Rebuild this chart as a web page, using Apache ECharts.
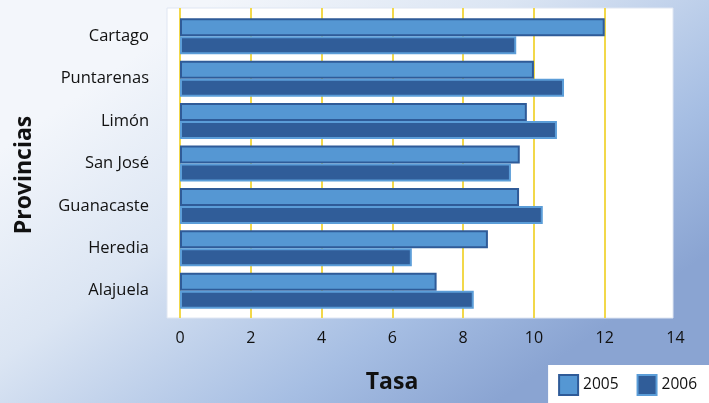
<!DOCTYPE html>
<html>
<head>
<meta charset="utf-8">
<script src="https://cdn.jsdelivr.net/npm/echarts@6/dist/echarts.min.js"></script>
<style>
  html, body { margin: 0; padding: 0; }
  #chart { width: 709px; height: 403px; }
</style>
</head>
<body>
<div id="chart"></div>
<script>
const provincias = ['Cartago', 'Puntarenas', 'Limón', 'San José', 'Guanacaste', 'Heredia', 'Alajuela'];
const tasa2005 = [12.0, 10.0, 9.8, 9.6, 9.58, 8.7, 7.25];
const tasa2006 = [9.5, 10.85, 10.65, 9.35, 10.25, 6.55, 8.3];
const xTicks = [0, 2, 4, 6, 8, 10, 12, 14];

const font = '"Open Sans", "Noto Sans", sans-serif';

const chart = echarts.init(document.getElementById('chart'));

const options = {
  backgroundColor: {
    type: 'linear', x: 0.3, y: 0, x2: 0.7, y2: 1,
    colorStops: [
      { offset: 0, color: '#f3f6fb' },
      { offset: 0.35, color: '#dbe5f3' },
      { offset: 0.75, color: '#a6bee3' },
      { offset: 1, color: '#8aa4d2' }
    ]
  },
  animation: false,
  textStyle: { fontFamily: font },
  graphic: [
    // white plot panel
    { type: 'rect', z: -1, shape: { x: 167, y: 8, width: 506, height: 310 },
      style: { fill: '#ffffff', stroke: '#dfe6f2', lineWidth: 1 } },
    { type: 'text', x: 24, y: 175, rotation: Math.PI / 2,
      style: { text: 'Provincias', fontSize: 23, fontWeight: 'bold', fontFamily: font,
        fill: '#111', align: 'center', verticalAlign: 'middle' } },
    { type: 'text', x: 392, y: 382,
      style: { text: 'Tasa', fontSize: 23, fontWeight: 'bold', fontFamily: font,
        fill: '#111', align: 'center', verticalAlign: 'middle' } }
  ],
  legend: {
    right: 0, bottom: 0,
    backgroundColor: '#ffffff',
    padding: [9, 12, 7, 10],
    itemWidth: 19, itemHeight: 20, itemGap: 18,
    icon: 'rect',
    textStyle: { fontSize: 15.5, color: '#111', fontFamily: font },
    data: ['2005', '2006']
  },
  grid: [
    { left: 180, right: 33.5, top: 8, bottom: 85 },
    { left: 180, right: 33.5, top: 15, height: 297 }
  ],
  xAxis: [
    {
      gridIndex: 0, type: 'value', min: 0, max: 14, interval: 2,
      axisLine: { show: false }, axisTick: { show: false },
      axisLabel: { fontSize: 16, color: '#111', margin: 12, fontFamily: font,
        formatter: v => xTicks.includes(v) ? String(v) : '' },
      splitLine: { show: true, showMaxLine: false, lineStyle: { color: '#f2d84a', width: 2 } }
    },
    {
      gridIndex: 1, type: 'value', min: 0, max: 14, interval: 2, show: false
    }
  ],
  yAxis: [
    { gridIndex: 0, type: 'value', show: false },
    {
      gridIndex: 1, type: 'category', data: provincias, inverse: true,
      axisLine: { show: false }, axisTick: { show: false },
      axisLabel: { fontSize: 16.5, color: '#111', margin: 31, fontFamily: font }
    }
  ],
  series: [
    {
      name: '2005', type: 'bar', xAxisIndex: 1, yAxisIndex: 1,
      data: tasa2005, barWidth: 18, barGap: '0%',
      itemStyle: { color: '#5597d3', borderColor: '#2f5b98', borderWidth: 2 }
    },
    {
      name: '2006', type: 'bar', xAxisIndex: 1, yAxisIndex: 1,
      data: tasa2006, barWidth: 18, barGap: '0%',
      itemStyle: { color: '#305d99', borderColor: '#5b9dd8', borderWidth: 2 }
    }
  ]
};

chart.setOption(options);
</script>
</body>
</html>
